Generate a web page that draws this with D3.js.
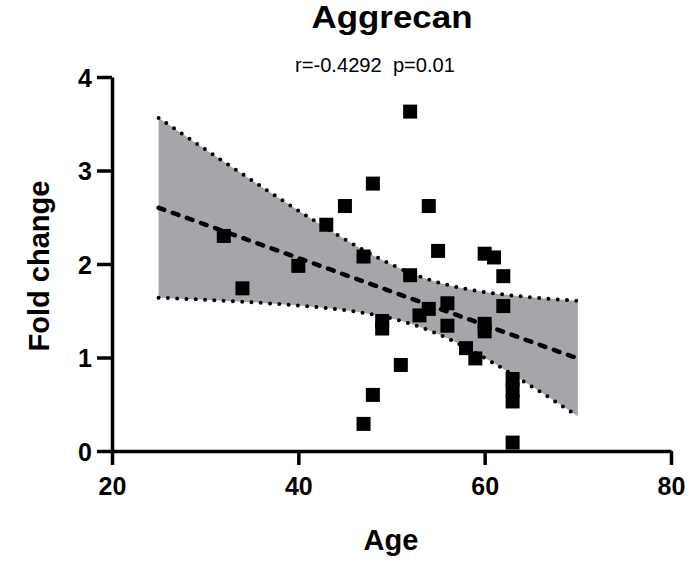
<!DOCTYPE html>
<html>
<head>
<meta charset="utf-8">
<script src="https://cdn.jsdelivr.net/npm/d3@7"></script>
<style>
  body { margin: 0; background: #fff; }
  text { font-family: Arial, "Liberation Sans", sans-serif; fill: #000; }
</style>
</head>
<body>
<svg id="chart" width="688" height="561"></svg>
<script>
// values
const ages = [32, 34, 40, 43, 45, 47, 47, 48, 48, 49, 49, 51, 52, 52, 53, 54, 54, 55, 56, 56, 58, 59, 60, 60, 60, 61, 62, 62, 63, 63, 63, 63]
const foldChange = [2.30, 1.74, 1.98, 2.42, 2.62, 2.08, 0.29, 2.86, 0.60, 1.39, 1.31, 0.92, 3.63, 1.88, 1.45, 1.52, 2.62, 2.14, 1.58, 1.34, 1.10, 0.99, 2.11, 1.36, 1.28, 2.07, 1.87, 1.55, 0.77, 0.65, 0.53, 0.09]
const xTicks = [20, 40, 60, 80]
const yTicks = [0, 1, 2, 3, 4]
const fitRange = [25, 70]
const tCrit = 2.042 // t(0.975, df = 30)

const titleText = "Aggrecan"
const statText = "r=-0.4292  p=0.01"

const svg = d3.select("#chart")

let x = d3.scaleLinear().domain([20, 80]).range([112, 671])
let y = d3.scaleLinear().domain([0, 4]).range([451, 77])

// linear regression + 95% confidence band
const n = ages.length
const mx = d3.mean(ages), my = d3.mean(foldChange)
let sxx = 0, sxy = 0, syy = 0
ages.forEach((a, i) => {
    sxx += (a - mx) * (a - mx)
    sxy += (a - mx) * (foldChange[i] - my)
    syy += (foldChange[i] - my) * (foldChange[i] - my)
})
const slope = sxy / sxx
const intercept = my - slope * mx
const s = Math.sqrt((syy - sxy * sxy / sxx) / (n - 2))

let band = d3.range(fitRange[0], fitRange[1] + 0.001, 0.5).map(a => {
    const fit = intercept + slope * a
    const half = tCrit * s * Math.sqrt(1 / n + (a - mx) * (a - mx) / sxx)
    return { a: a, fit: fit, lo: fit - half, hi: fit + half }
})

svg.append("path")
    .datum(band)
    .attr("fill", "#a6a5aa")
    .attr("d", d3.area().x(d => x(d.a)).y0(d => y(d.lo)).y1(d => y(d.hi)))

// dotted band edges
;["hi", "lo"].forEach(k => {
    svg.append("path")
        .datum(band)
        .attr("fill", "none")
        .attr("stroke", "#000")
        .attr("stroke-width", 4)
        .attr("stroke-linecap", "round")
        .attr("stroke-dasharray", "0 9.3")
        .attr("d", d3.line().x(d => x(d.a)).y(d => y(d[k])))
})

// dashed fit line
svg.append("path")
    .datum(band)
    .attr("fill", "none")
    .attr("stroke", "#000")
    .attr("stroke-width", 4.5)
    .attr("stroke-linecap", "round")
    .attr("stroke-dasharray", "6 9")
    .attr("d", d3.line().x(d => x(d.a)).y(d => y(d.fit)))

// points
const size = 14
svg.append("g")
    .selectAll("rect")
    .data(ages.map((a, i) => [a, foldChange[i]]))
    .enter().append("rect")
    .attr("x", d => x(d[0]) - size / 2)
    .attr("y", d => y(d[1]) - size / 2)
    .attr("width", size)
    .attr("height", size)
    .attr("fill", "#000")

// axes
let xAxis = svg.append("g")
    .attr("transform", "translate(0," + y(0) + ")")
    .call(d3.axisBottom(x).tickValues(xTicks).tickFormat(d3.format("d"))
        .tickSize(14).tickPadding(12).tickSizeOuter(0))
let yAxis = svg.append("g")
    .attr("transform", "translate(" + x(20) + ",0)")
    .call(d3.axisLeft(y).tickValues(yTicks).tickFormat(d3.format("d"))
        .tickSize(15).tickPadding(5).tickSizeOuter(0))

;[xAxis, yAxis].forEach(g => {
    g.select(".domain").attr("stroke", "#000").attr("stroke-width", 3.5)
    g.selectAll(".tick line").attr("stroke", "#000").attr("stroke-width", 3.5)
    g.selectAll(".tick text")
        .style("font-family", "Arial, 'Liberation Sans', sans-serif")
        .style("font-size", "25px")
        .style("font-weight", "bold")
        .attr("fill", "#000")
})
yAxis.selectAll(".tick text").attr("dy", "0.36em")

// titles
svg.append("text")
    .attr("x", 392).attr("y", 28)
    .attr("text-anchor", "middle")
    .attr("textLength", 161)
    .attr("lengthAdjust", "spacingAndGlyphs")
    .style("font-size", "31px").style("font-weight", "bold")
    .text(titleText)

svg.append("text")
    .attr("x", 375).attr("y", 72)
    .attr("text-anchor", "middle")
    .attr("textLength", 160)
    .attr("lengthAdjust", "spacingAndGlyphs")
    .style("font-size", "20px")
    .style("white-space", "pre")
    .text(statText)

svg.append("text")
    .attr("x", 391).attr("y", 550)
    .attr("text-anchor", "middle")
    .style("font-size", "29px").style("font-weight", "bold")
    .text("Age")

svg.append("text")
    .attr("transform", "translate(49,266) rotate(-90)")
    .attr("text-anchor", "middle")
    .style("font-size", "29px").style("font-weight", "bold")
    .text("Fold change")
</script>
</body>
</html>
